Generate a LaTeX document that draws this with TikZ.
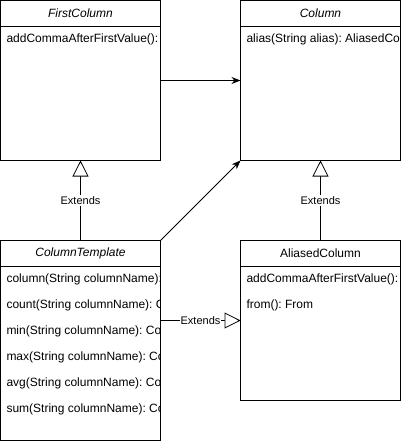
\documentclass[tikz,border=0pt]{standalone}
\usepackage{fontspec}
\setmainfont{Liberation Sans}
\frenchspacing
\usetikzlibrary{arrows.meta, positioning}
\tikzset{
  classBox/.style={
    rectangle, draw, line width=0.8pt,
    inner sep=0pt, outer sep=0pt,
    minimum width=160pt, minimum height=160pt
  },
  classTitle/.style={rectangle, inner sep=0pt, outer sep=0pt, minimum width=160pt, minimum height=26pt, font=\fontsize{12pt}{14pt}\selectfont},
  member/.style={rectangle, anchor=north west, inner xsep=6pt, inner ysep=0pt, outer sep=0pt,
    minimum height=26pt, text height=8.5pt, text depth=2.5pt, font=\fontsize{12pt}{14pt}\selectfont},
  assoc/.style={-{Stealth[length=9pt, width=7pt]}, line width=0.8pt},
  extends/.style={-{Triangle[open, length=16pt, width=16pt, fill=white]}, line width=0.8pt},
  extLabel/.style={fill=white, inner sep=1pt, font=\fontsize{11pt}{13pt}\selectfont},
}
\begin{document}
\begin{tikzpicture}[x=1pt, y=-1pt]
\useasboundingbox (0,0) rectangle (401,441);

% ---- Class boxes ------------------------------------------------
\node[classBox, anchor=north west] (first) at (0.5,0.5) {};
\node[classBox, right=80pt of first] (col) {};
\node[classBox, below=80pt of first, minimum height=200pt] (tmpl) {};
\node[classBox, below=80pt of col] (alias) {};

% ---- Titles -----------------------------------------------------
\node[classTitle, anchor=north] (firstT) at (first.north) {\itshape FirstColumn};
\node[classTitle, anchor=north] (colT) at (col.north) {\itshape Column};
\node[classTitle, anchor=north] (tmplT) at (tmpl.north) {\itshape ColumnTemplate};
\node[classTitle, anchor=north] (aliasT) at (alias.north) {AliasedColumn};
\draw[line width=0.8pt] (firstT.south west) -- (firstT.south east);
\draw[line width=0.8pt] (colT.south west) -- (colT.south east);
\draw[line width=0.8pt] (tmplT.south west) -- (tmplT.south east);
\draw[line width=0.8pt] (aliasT.south west) -- (aliasT.south east);

% ---- Members (cut at the box edge) ------------------------------
\begin{scope}
  \clip (first.north west) rectangle (first.south east);
  \node[member] (firstM1) at (firstT.south west) {addCommaAfterFirstValue():};
\end{scope}
\begin{scope}
  \clip (col.north west) rectangle (col.south east);
  \node[member] (colM1) at (colT.south west) {alias(String alias): AliasedColumn};
\end{scope}
\begin{scope}
  \clip (tmpl.north west) rectangle (tmpl.south east);
  \node[member] (tmplM1) at (tmplT.south west) {column(String columnName): Column};
  \node[member] (tmplM2) at (tmplM1.south west) {count(String columnName): Column};
  \node[member] (tmplM3) at (tmplM2.south west) {min(String columnName): Column};
  \node[member] (tmplM4) at (tmplM3.south west) {max(String columnName): Column};
  \node[member] (tmplM5) at (tmplM4.south west) {avg(String columnName): Column};
  \node[member] (tmplM6) at (tmplM5.south west) {sum(String columnName): Column};
\end{scope}
\begin{scope}
  \clip (alias.north west) rectangle (alias.south east);
  \node[member] (aliasM1) at (aliasT.south west) {addCommaAfterFirstValue():};
  \node[member] (aliasM2) at (aliasM1.south west) {from(): From};
\end{scope}

% ---- Connectors -------------------------------------------------
\draw[assoc] (first.east) -- (col.west);
\draw[assoc] (tmpl.north east) -- (col.south west);
\draw[extends] (tmpl.north) -- node[extLabel]{Extends} (first.south);
\draw[extends] (alias.north) -- node[extLabel]{Extends} (col.south);
\draw[extends] (tmpl.east |- alias.west) -- node[extLabel]{Extends} (alias.west);

\end{tikzpicture}
\end{document}
